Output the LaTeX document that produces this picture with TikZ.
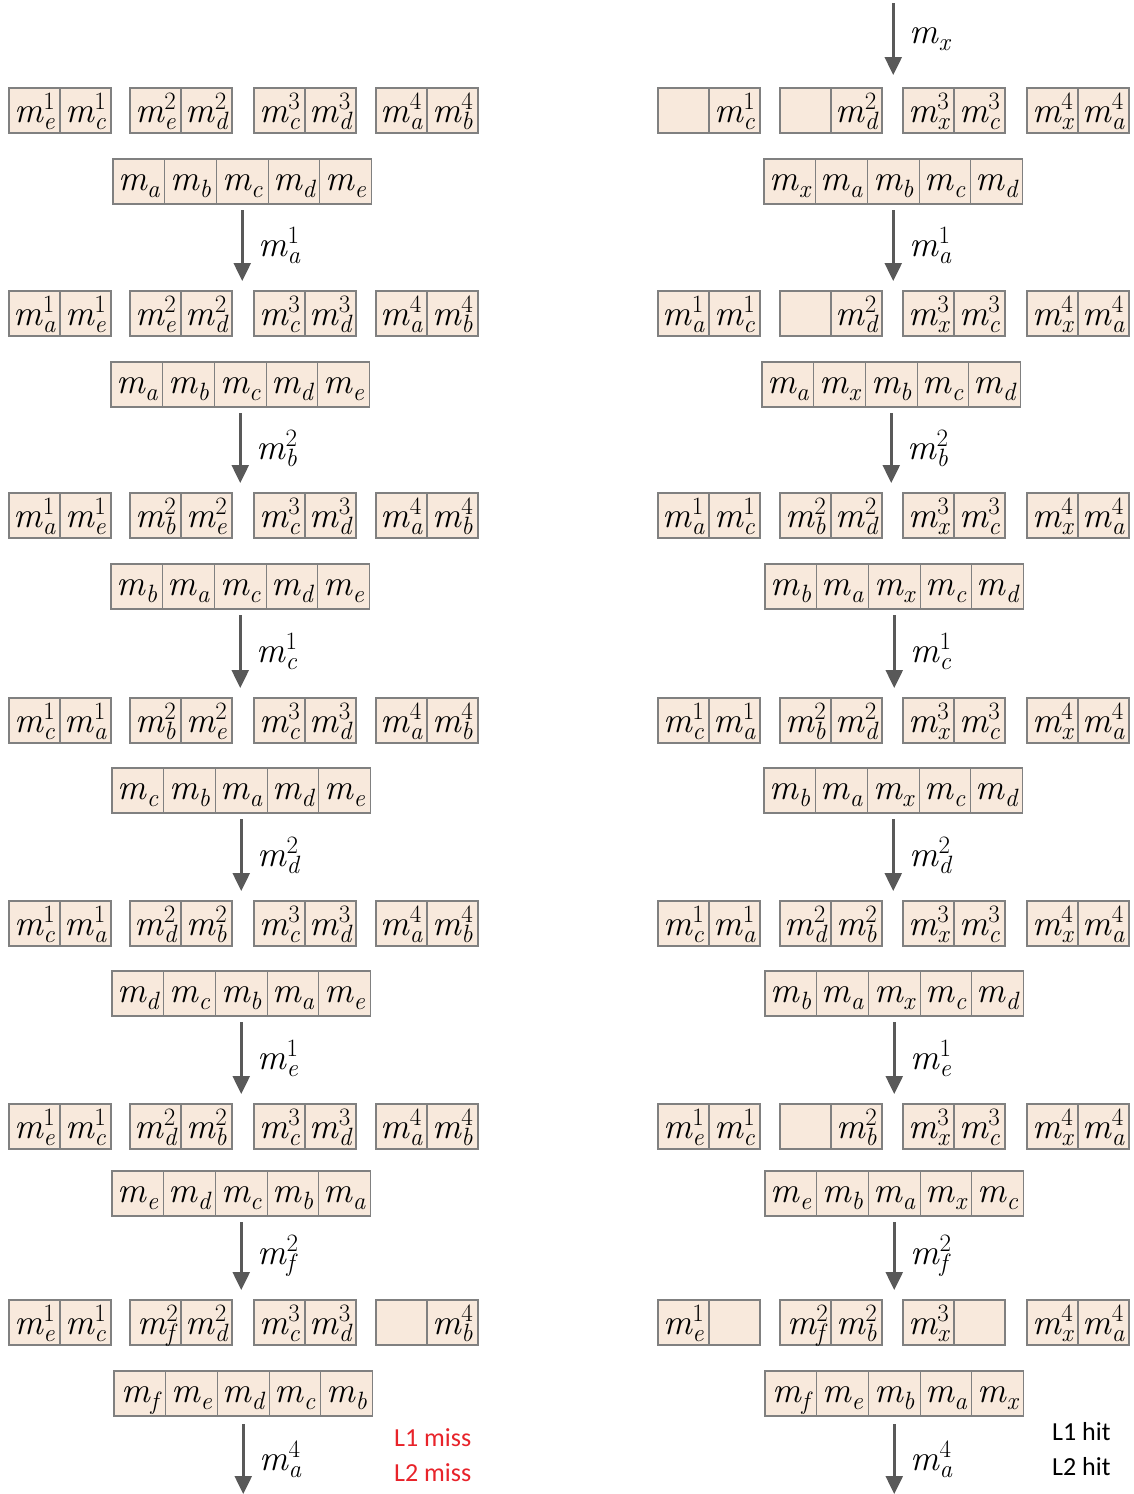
\documentclass[tikz,border=0pt]{standalone}
\usepackage{fontspec}
\newfontfamily\carl{Carlito}
\usetikzlibrary{arrows.meta,calc}
\definecolor{cellfill}{HTML}{F8E9DC}
\definecolor{cellline}{HTML}{808080}
\definecolor{arrgray}{HTML}{595959}
\definecolor{missred}{HTML}{E8232A}
\newcommand\mm[2]{{\rmfamily\itshape m}\kern0.01em\rlap{\raisebox{0.36em}{\fontsize{25}{25}\selectfont\rmfamily\upshape #1}}\raisebox{-0.2em}{\fontsize{25}{25}\selectfont\rmfamily\itshape #2}}
\newcommand\cpair[5]{%
  \node[cell,anchor=north west] (#1l) at (#2,#3) {#4};
  \node[cell,anchor=north west] (#1r) at (#1l.north east) {#5};}
\newcommand\cbar[8]{%
  \node[barcell,anchor=north west] (#1a) at (#2,#3) {#4};
  \node[barcell,anchor=north west] (#1b) at (#1a.north east) {#5};
  \node[barcell,anchor=north west] (#1c) at (#1b.north east) {#6};
  \node[barcell,anchor=north west] (#1d) at (#1c.north east) {#7};
  \node[barcell,anchor=north west] (#1e) at (#1d.north east) {#8};}
\tikzset{
  cell/.style={draw=cellline, fill=cellfill, line width=1.2pt, minimum width=51pt,
    minimum height=45pt, inner sep=0pt, outer sep=0pt, text height=34pt, text depth=11pt,
    font=\rmfamily\fontsize{36}{40}\selectfont},
  barcell/.style={cell, minimum width=51.7pt, text height=31pt, text depth=14pt},
  arr/.style={draw=arrgray, line width=2.5pt, -{Triangle[length=18pt,width=17pt,fill=arrgray]}},
  albl/.style={anchor=west, inner sep=0pt, font=\rmfamily\fontsize{36}{40}\selectfont},
  note/.style={anchor=west, inner sep=0pt, font=\carl\fontsize{26}{30}\selectfont}
}
\begin{document}
\begin{tikzpicture}[x=1pt,y=-1pt]
\useasboundingbox[fill=white] (0,0) rectangle (1133,1494);
% ---------------- left column ----------------
% row 0
\cpair{L0p1}{9}{88}{\mm{1}{e}}{\mm{1}{c}}
\cpair{L0p2}{130}{88}{\mm{2}{e}}{\mm{2}{d}}
\cpair{L0p3}{254}{88}{\mm{3}{c}}{\mm{3}{d}}
\cpair{L0p4}{376}{88}{\mm{4}{a}}{\mm{4}{b}}
\cbar{Lb0}{113}{159}{\mm{}{a}}{\mm{}{b}}{\mm{}{c}}{\mm{}{d}}{\mm{}{e}}
% row 1
\cpair{L1p1}{9}{291}{\mm{1}{a}}{\mm{1}{e}}
\cpair{L1p2}{130}{291}{\mm{2}{e}}{\mm{2}{d}}
\cpair{L1p3}{254}{291}{\mm{3}{c}}{\mm{3}{d}}
\cpair{L1p4}{376}{291}{\mm{4}{a}}{\mm{4}{b}}
\cbar{Lb1}{111}{362}{\mm{}{a}}{\mm{}{b}}{\mm{}{c}}{\mm{}{d}}{\mm{}{e}}
% row 2
\cpair{L2p1}{9}{493}{\mm{1}{a}}{\mm{1}{e}}
\cpair{L2p2}{130}{493}{\mm{2}{b}}{\mm{2}{e}}
\cpair{L2p3}{254}{493}{\mm{3}{c}}{\mm{3}{d}}
\cpair{L2p4}{376}{493}{\mm{4}{a}}{\mm{4}{b}}
\cbar{Lb2}{111}{564}{\mm{}{b}}{\mm{}{a}}{\mm{}{c}}{\mm{}{d}}{\mm{}{e}}
% row 3
\cpair{L3p1}{9}{698}{\mm{1}{c}}{\mm{1}{a}}
\cpair{L3p2}{130}{698}{\mm{2}{b}}{\mm{2}{e}}
\cpair{L3p3}{254}{698}{\mm{3}{c}}{\mm{3}{d}}
\cpair{L3p4}{376}{698}{\mm{4}{a}}{\mm{4}{b}}
\cbar{Lb3}{112}{768}{\mm{}{c}}{\mm{}{b}}{\mm{}{a}}{\mm{}{d}}{\mm{}{e}}
% row 4
\cpair{L4p1}{9}{901}{\mm{1}{c}}{\mm{1}{a}}
\cpair{L4p2}{130}{901}{\mm{2}{d}}{\mm{2}{b}}
\cpair{L4p3}{254}{901}{\mm{3}{c}}{\mm{3}{d}}
\cpair{L4p4}{376}{901}{\mm{4}{a}}{\mm{4}{b}}
\cbar{Lb4}{112}{971}{\mm{}{d}}{\mm{}{c}}{\mm{}{b}}{\mm{}{a}}{\mm{}{e}}
% row 5
\cpair{L5p1}{9}{1104}{\mm{1}{e}}{\mm{1}{c}}
\cpair{L5p2}{130}{1104}{\mm{2}{d}}{\mm{2}{b}}
\cpair{L5p3}{254}{1104}{\mm{3}{c}}{\mm{3}{d}}
\cpair{L5p4}{376}{1104}{\mm{4}{a}}{\mm{4}{b}}
\cbar{Lb5}{112}{1171}{\mm{}{e}}{\mm{}{d}}{\mm{}{c}}{\mm{}{b}}{\mm{}{a}}
% row 6
\cpair{L6p1}{9}{1300}{\mm{1}{e}}{\mm{1}{c}}
\cpair{L6p2}{130}{1300}{\mm{2}{f}}{\mm{2}{d}}
\cpair{L6p3}{254}{1300}{\mm{3}{c}}{\mm{3}{d}}
\cpair{L6p4}{376}{1300}{}{\mm{4}{b}}
\cbar{Lb6}{114}{1371}{\mm{}{f}}{\mm{}{e}}{\mm{}{d}}{\mm{}{c}}{\mm{}{b}}
% left arrows
\foreach \k/\n/\lab in {0/1/{\mm{1}{a}},1/2/{\mm{2}{b}},2/3/{\mm{1}{c}},3/4/{\mm{2}{d}},4/5/{\mm{1}{e}},5/6/{\mm{2}{f}}}{
  \coordinate (LAs\k) at ($(Lb\k c.south)+(0,6)$);
  \coordinate (LAe\k) at ($(Lb\k c.south |- L\n p1l.north)+(0,-10)$);
  \draw[arr] (LAs\k) -- (LAe\k);
  \node[albl] (LAl\k) at ($(LAs\k)!0.5!(LAe\k)+(16,0)$) {\lab};
}
\coordinate (LAs6) at ($(Lb6c.south)+(0,8)$);
\coordinate (LAe6) at (Lb6c.south |- 0,1494);
\draw[arr] (LAs6) -- (LAe6);
\node[albl] (LAl6) at ($(LAs6)!0.5!(LAe6)+(16,0)$) {\mm{4}{a}};
\node[note, text=missred] (L1m) at (394,1438) {L1 miss};
\node[note, text=missred] (L2m) at (394,1473) {L2 miss};
% ---------------- right column ----------------
% row 0
\cpair{R0p1}{658}{88}{}{\mm{1}{c}}
\cpair{R0p2}{780}{88}{}{\mm{2}{d}}
\cpair{R0p3}{903}{88}{\mm{3}{x}}{\mm{3}{c}}
\cpair{R0p4}{1027}{88}{\mm{4}{x}}{\mm{4}{a}}
\cbar{Rb0}{764}{159}{\mm{}{x}}{\mm{}{a}}{\mm{}{b}}{\mm{}{c}}{\mm{}{d}}
% row 1
\cpair{R1p1}{658}{291}{\mm{1}{a}}{\mm{1}{c}}
\cpair{R1p2}{780}{291}{}{\mm{2}{d}}
\cpair{R1p3}{903}{291}{\mm{3}{x}}{\mm{3}{c}}
\cpair{R1p4}{1027}{291}{\mm{4}{x}}{\mm{4}{a}}
\cbar{Rb1}{762}{362}{\mm{}{a}}{\mm{}{x}}{\mm{}{b}}{\mm{}{c}}{\mm{}{d}}
% row 2
\cpair{R2p1}{658}{493}{\mm{1}{a}}{\mm{1}{c}}
\cpair{R2p2}{780}{493}{\mm{2}{b}}{\mm{2}{d}}
\cpair{R2p3}{903}{493}{\mm{3}{x}}{\mm{3}{c}}
\cpair{R2p4}{1027}{493}{\mm{4}{x}}{\mm{4}{a}}
\cbar{Rb2}{765}{564}{\mm{}{b}}{\mm{}{a}}{\mm{}{x}}{\mm{}{c}}{\mm{}{d}}
% row 3
\cpair{R3p1}{658}{698}{\mm{1}{c}}{\mm{1}{a}}
\cpair{R3p2}{780}{698}{\mm{2}{b}}{\mm{2}{d}}
\cpair{R3p3}{903}{698}{\mm{3}{x}}{\mm{3}{c}}
\cpair{R3p4}{1027}{698}{\mm{4}{x}}{\mm{4}{a}}
\cbar{Rb3}{764}{768}{\mm{}{b}}{\mm{}{a}}{\mm{}{x}}{\mm{}{c}}{\mm{}{d}}
% row 4
\cpair{R4p1}{658}{901}{\mm{1}{c}}{\mm{1}{a}}
\cpair{R4p2}{780}{901}{\mm{2}{d}}{\mm{2}{b}}
\cpair{R4p3}{903}{901}{\mm{3}{x}}{\mm{3}{c}}
\cpair{R4p4}{1027}{901}{\mm{4}{x}}{\mm{4}{a}}
\cbar{Rb4}{765}{971}{\mm{}{b}}{\mm{}{a}}{\mm{}{x}}{\mm{}{c}}{\mm{}{d}}
% row 5
\cpair{R5p1}{658}{1104}{\mm{1}{e}}{\mm{1}{c}}
\cpair{R5p2}{780}{1104}{}{\mm{2}{b}}
\cpair{R5p3}{903}{1104}{\mm{3}{x}}{\mm{3}{c}}
\cpair{R5p4}{1027}{1104}{\mm{4}{x}}{\mm{4}{a}}
\cbar{Rb5}{765}{1171}{\mm{}{e}}{\mm{}{b}}{\mm{}{a}}{\mm{}{x}}{\mm{}{c}}
% row 6
\cpair{R6p1}{658}{1300}{\mm{1}{e}}{}
\cpair{R6p2}{780}{1300}{\mm{2}{f}}{\mm{2}{b}}
\cpair{R6p3}{903}{1300}{\mm{3}{x}}{}
\cpair{R6p4}{1027}{1300}{\mm{4}{x}}{\mm{4}{a}}
\cbar{Rb6}{765}{1371}{\mm{}{f}}{\mm{}{e}}{\mm{}{b}}{\mm{}{a}}{\mm{}{x}}
% right arrows
\coordinate (RAtop) at (Rb0c.south |- 0,3);
\coordinate (RAtope) at ($(Rb0c.south |- R0p1l.north)+(0,-13)$);
\draw[arr] (RAtop) -- (RAtope);
\node[albl] (RAltop) at ($(RAtop)!0.5!(RAtope)+(16,0)$) {\mm{}{x}};
\foreach \k/\n/\lab in {0/1/{\mm{1}{a}},1/2/{\mm{2}{b}},2/3/{\mm{1}{c}},3/4/{\mm{2}{d}},4/5/{\mm{1}{e}},5/6/{\mm{2}{f}}}{
  \coordinate (RAs\k) at ($(Rb\k c.south)+(0,6)$);
  \coordinate (RAe\k) at ($(Rb\k c.south |- R\n p1l.north)+(0,-10)$);
  \draw[arr] (RAs\k) -- (RAe\k);
  \node[albl] (RAl\k) at ($(RAs\k)!0.5!(RAe\k)+(16,0)$) {\lab};
}
\coordinate (RAs6) at ($(Rb6c.south)+(0,8)$);
\coordinate (RAe6) at (Rb6c.south |- 0,1494);
\draw[arr] (RAs6) -- (RAe6);
\node[albl] (RAl6) at ($(RAs6)!0.5!(RAe6)+(16,0)$) {\mm{4}{a}};
\node[note] (R1h) at (1052,1432) {L1 hit};
\node[note] (R2h) at (1052,1467) {L2 hit};
\end{tikzpicture}
\end{document}
